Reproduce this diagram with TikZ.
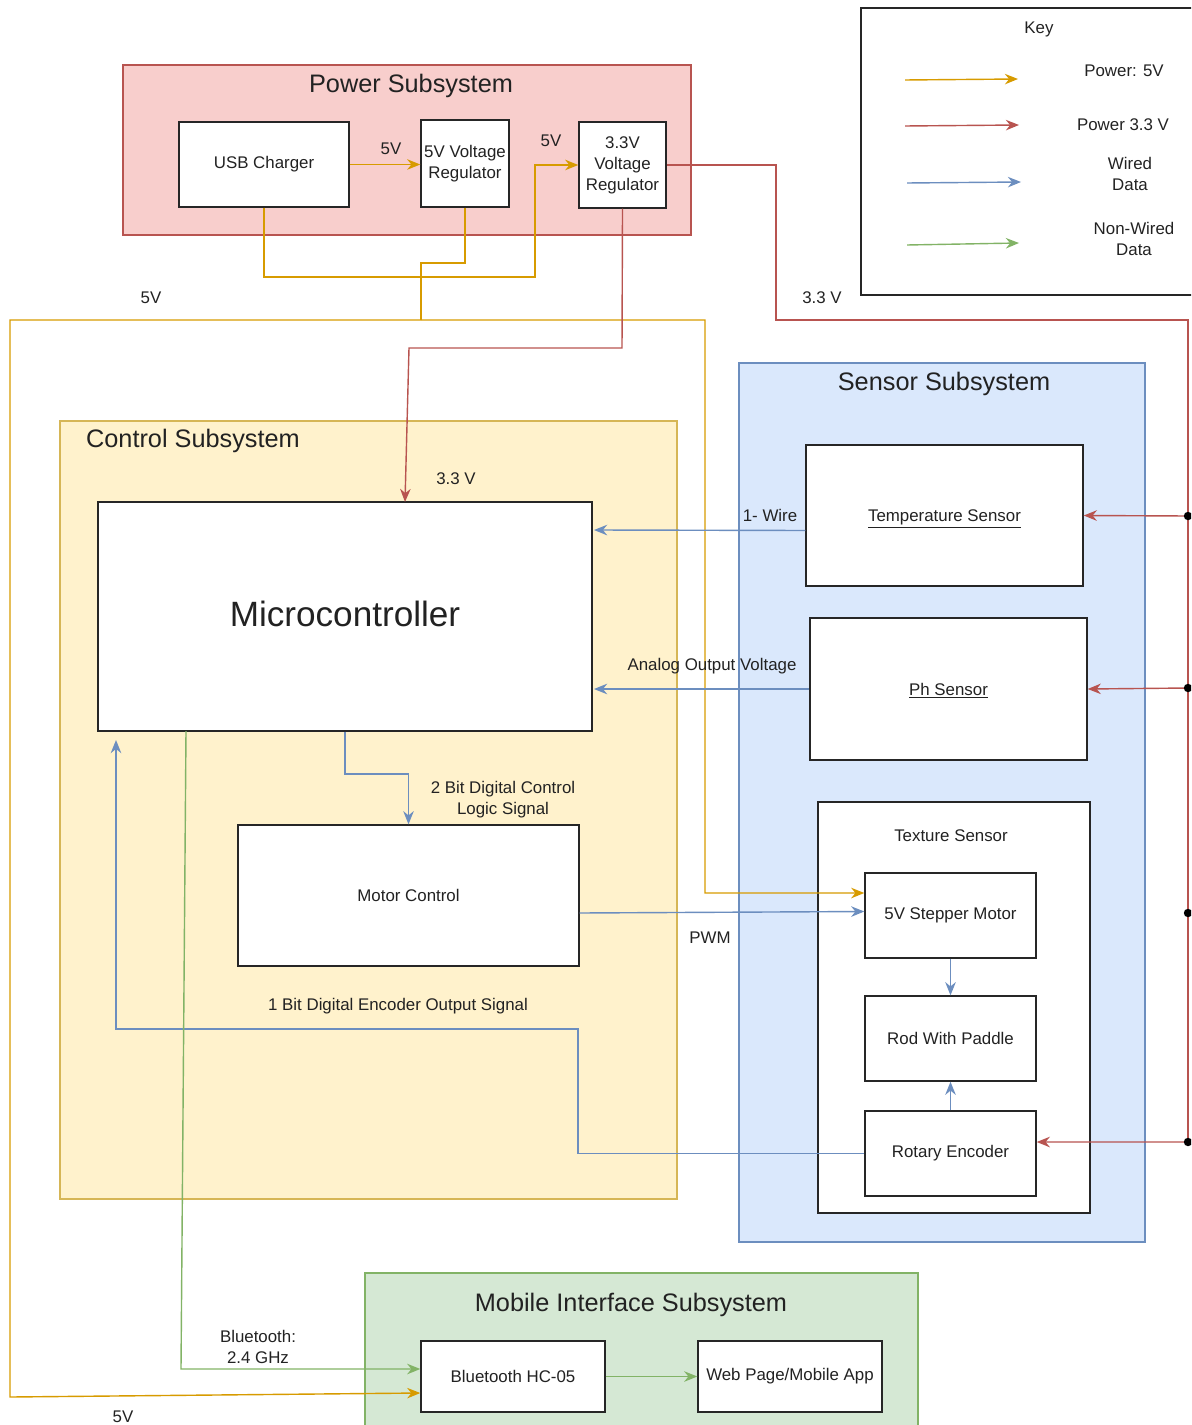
\documentclass[tikz,border=0pt]{standalone}
\usepackage{fontspec}
\setmainfont{Liberation Sans}
\usetikzlibrary{arrows.meta}
\definecolor{c5}{HTML}{D79B00}
\definecolor{c33}{HTML}{B85450}
\definecolor{cw}{HTML}{6C8EBF}
\definecolor{cn}{HTML}{82B366}
\definecolor{fred}{HTML}{F8CECC}
\definecolor{fyel}{HTML}{FFF2CC}
\definecolor{syel}{HTML}{D6B656}
\definecolor{fblu}{HTML}{DAE8FC}
\definecolor{fgrn}{HTML}{D5E8D4}
\definecolor{txt}{HTML}{222222}
% \bx[options]{name}{x1}{y1}{x2}{y2}{text}
\newcommand\bx[7][]{\node[box,#1, minimum width={(#5-#3)*0.02cm}, minimum height={(#6-#4)*0.02cm}] (#2) at ({(#3+#5)/2},{(#4+#6)/2}) {#7};}
\newcommand\ul[1]{\raisebox{0pt}[\height][0pt]{\underline{#1}}}
\begin{document}
\begin{tikzpicture}[x=0.02cm,y=-0.02cm,
  box/.style={draw=black!85, fill=white, line width=0.8pt, inner sep=0pt, align=center, text=txt, font=\fontsize{9.6}{12}\selectfont},
  group/.style={line width=0.7pt},
  ttl/.style={font=\fontsize{14.4}{17}\selectfont, inner sep=0pt, text=txt},
  lbl/.style={font=\fontsize{9.6}{12}\selectfont, inner sep=0pt, align=center, text=txt},
  arr/.style={line width=0.8pt, -{Stealth[length=7.5pt,width=6pt]}},
  ln/.style={line width=0.8pt},
  p5/.style={arr, draw=c5},
  p33/.style={arr, draw=c33},
  wd/.style={arr, draw=cw},
  nw/.style={arr, draw=cn}
]
\useasboundingbox (0,0) rectangle (1191,1425);
\clip (0,0) rectangle (1191,1425);

% groups
\bx[group, draw=c33, fill=fred]{pwr}{123}{65}{691}{235}{}
\bx[group, draw=syel, fill=fyel]{ctl}{60}{421}{677}{1199}{}
\bx[group, draw=cw, fill=fblu]{sen}{739}{363}{1145}{1242}{}
\bx[group, draw=cn, fill=fgrn]{mob}{365}{1273}{918}{1440}{}
\bx[fill=none]{key}{861}{8}{1200}{295}{}

\node[ttl] (tpwr) at (411,86) {Power Subsystem};
\node[ttl] (tctl) at (193,441) {Control Subsystem};
\node[ttl] (tsen) at (944,384) {Sensor Subsystem};
\node[ttl] (tmob) at (631,1305) {Mobile Interface Subsystem};

% power boxes
\bx{usb}{179}{122}{349}{207}{USB Charger}
\bx{reg5}{421}{120}{509}{207}{5V Voltage\\Regulator}
\bx{reg33}{579}{122}{666}{208}{3.3V\\Voltage\\Regulator}

% control
\bx[font=\fontsize{20}{24}\selectfont]{mcu}{98}{502}{592}{731}{\raisebox{0.12cm}{Microcontroller}}
\bx{mot}{238}{825}{579}{966}{Motor Control}

% sensors
\bx{temp}{806}{445}{1083}{586}{\ul{Temperature Sensor}}
\bx{ph}{810}{618}{1087}{760}{\ul{Ph Sensor}}
\bx{tex}{818}{802}{1090}{1213}{}
\node[lbl] (ttex) at (951,836) {Texture Sensor};
\bx{step}{865}{873}{1036}{958}{5V Stepper Motor}
\bx{rod}{865}{996}{1036}{1081}{Rod With Paddle}
\bx{enc}{865}{1111}{1036}{1196}{Rotary Encoder}

% mobile
\bx{bt}{421}{1341}{605}{1412}{Bluetooth HC-05}
\bx{web}{698}{1341}{882}{1412}{Web Page/Mobile App}

% key
\node[lbl] (kt) at (1039,29) {Key};
\node[lbl] (k1) at (1124,71) {Power: 5V};
\node[lbl] (k2) at (1123,125) {Power 3.3 V};
\node[lbl] (k3) at (1130,174) {Wired\\Data};
\node[lbl] (k4) at (1134,239) {Non-Wired\\Data};
\coordinate (k1a) at (905,80); \coordinate (k1b) at (1018,79);
\coordinate (k2a) at (905,126); \coordinate (k2b) at (1019,125);
\coordinate (k3a) at (907,183); \coordinate (k3b) at (1021,182);
\coordinate (k4a) at (907,245); \coordinate (k4b) at (1019,243);
\draw[p5] (k1a) -- (k1b);
\draw[p33] (k2a) -- (k2b);
\draw[wd] (k3a) -- (k3b);
\draw[nw] (k4a) -- (k4b);

% 5V power
\draw[p5] (usb.east) -- (usb.east -| reg5.west);
\node[lbl] (l5a) at (391,149) {5V};
\node[lbl] (l5b) at (551,141) {5V};
\draw[p5] (usb.south) |- (535,277) |- (reg33.west);
\coordinate (j5) at (421,320);
\draw[ln, draw=c5] (reg5.south) |- (421,263) -- (j5);
\draw[p5] (j5) -- (10,320) -- (10,1397) -- ([yshift=-0.33cm]bt.west);
\draw[p5] (j5) -- (705,320) -- (705,893) -- ([yshift=0.45cm]step.west);
\node[lbl] (l5c) at (151,298) {5V};
\node[lbl] (l5d) at (123,1417) {5V};

% 3.3V power
\draw[p33] (reg33.south) -- (622,348) -- (409,348) -- (405,502);
\node[lbl] (l33a) at (456,479) {3.3 V};
\node[lbl] (l33b) at (822,298) {3.3 V};
\coordinate (d1) at (1188,516);
\coordinate (d2) at (1188,688);
\coordinate (d3) at (1188,913);
\coordinate (d4) at (1188,1142);
\draw[ln, draw=c33] (reg33.east) -- (776,165) -- (776,320) -- (1188,320) -- (d4);
\draw[p33] (d1) -- (temp.east);
\draw[p33] (d2) -- (ph.east);
\draw[p33] (d4) -- ([yshift=0.23cm]enc.east);
\foreach \d in {d1,d2,d3,d4} \fill (\d) circle (2.4pt);

% wired data
\draw[wd] ([yshift=-0.3cm]temp.west) -- (594,530);
\node[lbl] (lw) at (770,515) {1- Wire};
\draw[wd] (ph.west) -- (594,689);
\node[lbl] (la) at (712,666) {Analog Output Voltage};
\draw[wd] (mcu.south) -- (345,774) -| (mot.north);
\node[lbl] (lc) at (503,800) {2 Bit Digital Control\\Logic Signal};
\draw[wd] ([yshift=-0.35cm]mot.east) -- ([yshift=0.08cm]step.west);
\node[lbl] (lp) at (710,938) {PWM};
\draw[wd] (step.south) -- (rod.north);
\draw[wd] (enc.north) -- (rod.south);
\draw[wd] (enc.west) -- (578,1153.5) -- (578,1029) -- (116,1029) -- (116,740);
\node[lbl] (le) at (398,1006) {1 Bit Digital Encoder Output Signal};

% non-wired data
\draw[nw] (186,731) -- (181,1369) -- ([yshift=0.15cm]bt.west);
\node[lbl] (lb) at (258,1347) {Bluetooth:\\2.4 GHz};
\draw[nw] (bt.east) -- (web.west);
\end{tikzpicture}
\end{document}
